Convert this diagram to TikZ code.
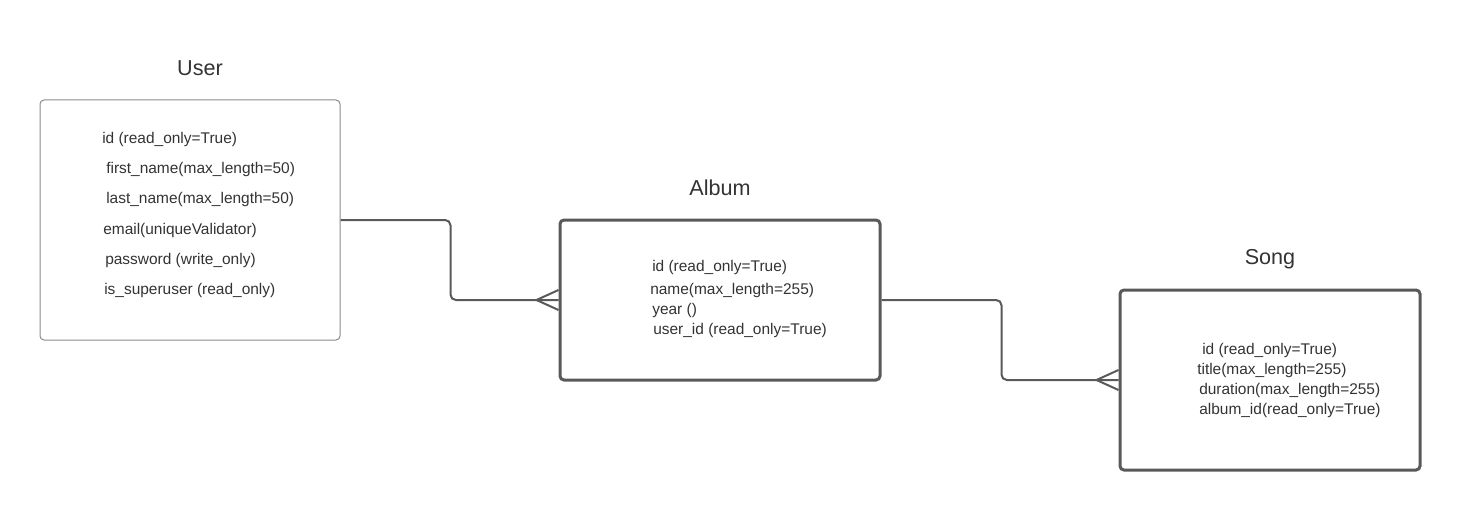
\documentclass[tikz,border=0pt]{standalone}
\usepackage{fontspec}
\setmainfont{Liberation Sans}
\usetikzlibrary{calc}
\definecolor{boxline}{HTML}{595959}
\definecolor{thinline}{HTML}{8A8A8A}
\definecolor{txt}{HTML}{333333}
\tikzset{
  entity/.style={draw=boxline, line width=2.25pt, rounded corners=3pt, inner sep=0pt},
  thinentity/.style={draw=thinline, line width=0.75pt, rounded corners=3pt, inner sep=0pt},
  title/.style={text=txt, font=\fontsize{16.2pt}{19pt}\selectfont, inner sep=0pt},
  attr/.style={text=txt, font=\fontsize{11.6pt}{13pt}\selectfont, anchor=west, inner sep=0pt, yshift=-1.5pt},
  rel/.style={draw=boxline, line width=1.5pt, rounded corners=4pt},
  foot/.style={draw=boxline, line width=1.5pt},
}
\begin{document}
\begin{tikzpicture}[x=0.75pt,y=-0.75pt]
\useasboundingbox (0,0) rectangle (1460,510);
% boxes
\node[thinentity, minimum width=225pt, minimum height=180pt] (user) at (190,220) {};
\node[entity, minimum width=240pt, minimum height=120pt] (album) at (720,300) {};
\node[entity, minimum width=225pt, minimum height=135pt] (song) at (1270,380) {};
% titles
\node[title] (usert) at (200,68) {User};
\node[title] (albumt) at (720,188) {Album};
\node[title] (songt) at (1270,259) {Song};
% user attributes
\node[attr] (u1) at (102,138) {id (read\_only=True)};
\node[attr] (u2) at (106,168) {first\_name(max\_length=50)};
\node[attr] (u3) at (106,198) {last\_name(max\_length=50)};
\node[attr] (u4) at (103,228) {email(uniqueValidator)};
\node[attr] (u5) at (105,258) {password (write\_only)};
\node[attr] (u6) at (104,288) {is\_superuser (read\_only)};
% album attributes
\node[attr] (a1) at (652,265) {id (read\_only=True)};
\node[attr] (a2) at (650,288) {name(max\_length=255)};
\node[attr] (a3) at (652,308) {year ()};
\node[attr] (a4) at (653,328) {user\_id (read\_only=True)};
% song attributes
\node[attr] (s1) at (1202,348) {id (read\_only=True)};
\node[attr] (s2) at (1197,368) {title(max\_length=255)};
\node[attr] (s3) at (1199,388) {duration(max\_length=255)};
\node[attr] (s4) at (1199,408) {album\_id(read\_only=True)};
% relationships
\draw[rel] (user.east) -- ++(110,0) |- (album.west);
\draw[foot] ($(album.west)+(-22,0)$) -- ($(album.west)+(0,-10)$);
\draw[foot] ($(album.west)+(-22,0)$) -- ($(album.west)+(0,10)$);
\draw[rel] (album.east) -- ++(120,0) |- (song.west);
\draw[foot] ($(song.west)+(-22,0)$) -- ($(song.west)+(0,-10)$);
\draw[foot] ($(song.west)+(-22,0)$) -- ($(song.west)+(0,10)$);
\end{tikzpicture}
\end{document}
